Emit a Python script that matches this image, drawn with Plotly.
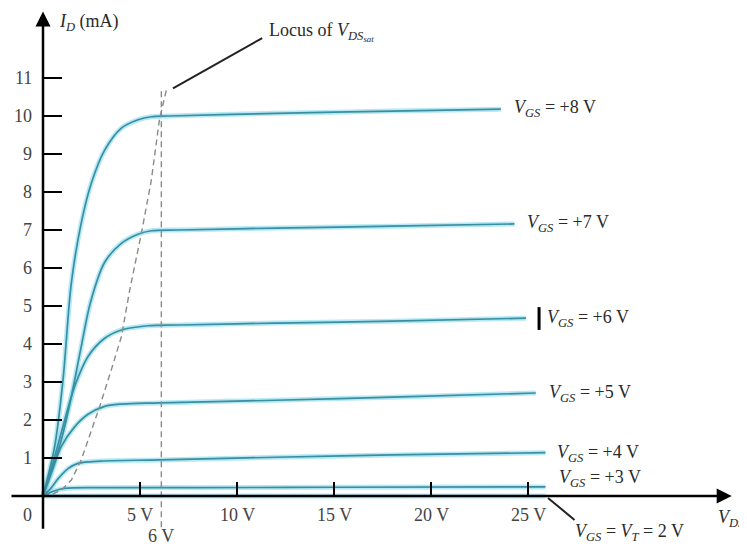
import plotly.graph_objects as go

# ---- data ----
vgs_labels = ["+8 V", "+7 V", "+6 V", "+5 V", "+4 V", "+3 V"]

vds_8 = [0, 0.6, 1.03, 1.46, 1.97, 2.49, 3.18, 4.04, 4.9, 5.58, 6.5, 12, 18, 23.6]
id_8 = [0, 1.3, 3.05, 5.6, 7.18, 8.23, 9.1, 9.68, 9.9, 9.98, 10.0, 10.07, 10.13, 10.18]

vds_7 = [0, 0.94, 1.46, 1.97, 2.45, 3.18, 4.04, 4.9, 5.58, 7, 12, 18, 24.3]
id_7 = [0, 1.47, 2.61, 3.93, 5.1, 6.15, 6.65, 6.89, 6.98, 7.0, 7.05, 7.1, 7.16]

vds_6 = [0, 0.6, 1.12, 1.63, 2.32, 3.18, 4.04, 5.4, 7, 12, 18, 24.9]
id_6 = [0, 1.03, 2.0, 2.88, 3.67, 4.15, 4.37, 4.48, 4.5, 4.55, 4.6, 4.68]

vds_5 = [0, 0.43, 0.94, 1.63, 2.32, 3.18, 4.04, 6, 12, 18, 25.4]
id_5 = [0, 0.6, 1.3, 1.82, 2.15, 2.36, 2.42, 2.45, 2.52, 2.6, 2.71]

vds_4 = [0, 0.4, 0.77, 1.29, 1.8, 3, 6, 12, 18, 25.9]
id_4 = [0, 0.2, 0.45, 0.72, 0.86, 0.92, 0.95, 1.02, 1.08, 1.14]

vds_3 = [0, 0.5, 1.1, 3, 8, 15, 25.9]
id_3 = [0, 0.12, 0.2, 0.22, 0.22, 0.23, 0.24]

vds_2 = [0, 25.9]
id_2 = [0, 0]

vds_locus = [0, 0.5, 1.0, 1.46, 1.97, 2.32, 2.92, 3.52, 4.04, 4.47, 5.07, 5.58, 6.0, 6.38]
id_locus = [0, 0.05, 0.18, 0.42, 0.95, 1.47, 2.35, 3.32, 4.19, 5.42, 6.91, 8.3, 9.9, 10.73]

vsat_line_x = 6.1
vsat_line_y = [-0.82, 10.73]

y_ticks = [1, 2, 3, 4, 5, 6, 7, 8, 9, 10, 11]
x_ticks = [5, 10, 15, 20, 25]
x_tick_labels = ["5 V", "10 V", "15 V", "20 V", "25 V"]

# label anchor positions (data units)
label_x = [24.2, 24.85, 25.9, 26.0, 26.4, 26.5]
label_y = [10.2, 7.16, 4.68, 2.71, 1.13, 0.47]

curves = [(vds_8, id_8), (vds_7, id_7), (vds_6, id_6), (vds_5, id_5), (vds_4, id_4), (vds_3, id_3), (vds_2, id_2)]

SERIF = "Liberation Serif"
fig = go.Figure()

for xs, ys in curves:
    fig.add_trace(go.Scatter(x=xs, y=ys, mode="lines",
                             line=dict(color="rgba(120,215,240,0.55)", width=5, shape="spline", smoothing=0.9),
                             hoverinfo="skip", showlegend=False))
for xs, ys in curves:
    fig.add_trace(go.Scatter(x=xs, y=ys, mode="lines",
                             line=dict(color="#3b8e9e", width=1.7, shape="spline", smoothing=0.9),
                             hoverinfo="skip", showlegend=False))

fig.add_trace(go.Scatter(x=vds_locus, y=id_locus, mode="lines",
                         line=dict(color="#8a8a8a", width=1.4, dash="6px,4px"),
                         hoverinfo="skip", showlegend=False))
fig.add_trace(go.Scatter(x=[vsat_line_x, vsat_line_x], y=vsat_line_y, mode="lines",
                         line=dict(color="#8a8a8a", width=1.4, dash="6px,4px"),
                         hoverinfo="skip", showlegend=False))

shapes = []
annotations = []
font_t = dict(family=SERIF, size=18, color="#2a2a2a")
font_n = dict(family=SERIF, size=18, color="#444444")

# y ticks
for t in y_ticks:
    shapes.append(dict(type="line", xref="x", yref="y", x0=0, x1=0.98, y0=t, y1=t,
                       line=dict(color="black", width=2)))
    annotations.append(dict(x=-0.45, y=t, text=str(t), showarrow=False, xanchor="right",
                            yanchor="middle", font=font_n))
annotations.append(dict(x=-0.45, y=-0.5, text="0", showarrow=False, xanchor="right",
                        yanchor="middle", font=font_n))
# x ticks
for t, lab in zip(x_ticks, x_tick_labels):
    shapes.append(dict(type="line", xref="x", yref="y", x0=t, x1=t, y0=0, y1=0.37,
                       line=dict(color="black", width=2)))
    annotations.append(dict(x=t, y=-0.5, text=lab, showarrow=False, xanchor="center",
                            yanchor="middle", font=font_n))
annotations.append(dict(x=vsat_line_x, y=-1.05, text="6 V", showarrow=False, xanchor="center",
                        yanchor="middle", font=font_n))

# axes with arrows
annotations.append(dict(x=0, y=12.75, ax=0, ay=-0.9, axref="x", ayref="y", xref="x", yref="y",
                        text="", showarrow=True, arrowhead=2, arrowsize=1.2, arrowwidth=2.5,
                        arrowcolor="black"))
annotations.append(dict(x=35.5, y=0, ax=-1.7, ay=0, axref="x", ayref="y", xref="x", yref="y",
                        text="", showarrow=True, arrowhead=2, arrowsize=1.2, arrowwidth=2.5,
                        arrowcolor="black"))

# axis titles
annotations.append(dict(x=0.7, y=12.45, text="<i>I<sub>D</sub></i> (mA)", showarrow=False,
                        xanchor="left", yanchor="middle", font=font_t))
annotations.append(dict(x=34.7, y=-0.6, text="<i>V<sub>DS</sub></i>", showarrow=False,
                        xanchor="left", yanchor="middle", font=font_t))

# curve labels
for lab, lx, ly in zip(vgs_labels, label_x, label_y):
    annotations.append(dict(x=lx, y=ly, text="<i>V<sub>GS</sub></i> = " + lab, showarrow=False,
                            xanchor="left", yanchor="middle", font=font_t))
annotations.append(dict(x=27.3, y=-0.95, text="<i>V<sub>GS</sub></i> = <i>V<sub>T</sub></i> = 2 V",
                        showarrow=False, xanchor="left", yanchor="middle", font=font_t))
shapes.append(dict(type="line", xref="x", yref="y", x0=26.03, x1=27.4, y0=-0.05, y1=-0.63,
                   line=dict(color="#222", width=2)))

# locus label + leader
annotations.append(dict(x=11.55, y=12.2, text="Locus of <i>V<sub>DS<sub>sat</sub></sub></i>",
                        showarrow=False, xanchor="left", yanchor="middle", font=font_t))
shapes.append(dict(type="line", xref="x", yref="y", x0=6.7, x1=11.3, y0=10.73, y1=12.05,
                   line=dict(color="#222", width=2)))

# cursor-like bar before +6 label
shapes.append(dict(type="line", xref="x", yref="y", x0=25.57, x1=25.57, y0=4.37, y1=4.97,
                   line=dict(color="black", width=3)))

# The page body has an 8px margin, so the figure is 8px smaller and its ranges
# are set so that page pixel (43, 496) is the origin.
OFF = 8
fig.update_layout(
    width=747 - OFF, height=550 - OFF,
    margin=dict(l=0, r=0, t=0, b=0),
    paper_bgcolor="white", plot_bgcolor="white",
    xaxis=dict(range=[(OFF - 43) / 19.4, (747 - 43) / 19.4], visible=False, fixedrange=True),
    yaxis=dict(range=[(496 - 550) / 38, (496 - OFF) / 38], visible=False, fixedrange=True),
    shapes=shapes, annotations=annotations,
)

fig.write_html("out.html")
